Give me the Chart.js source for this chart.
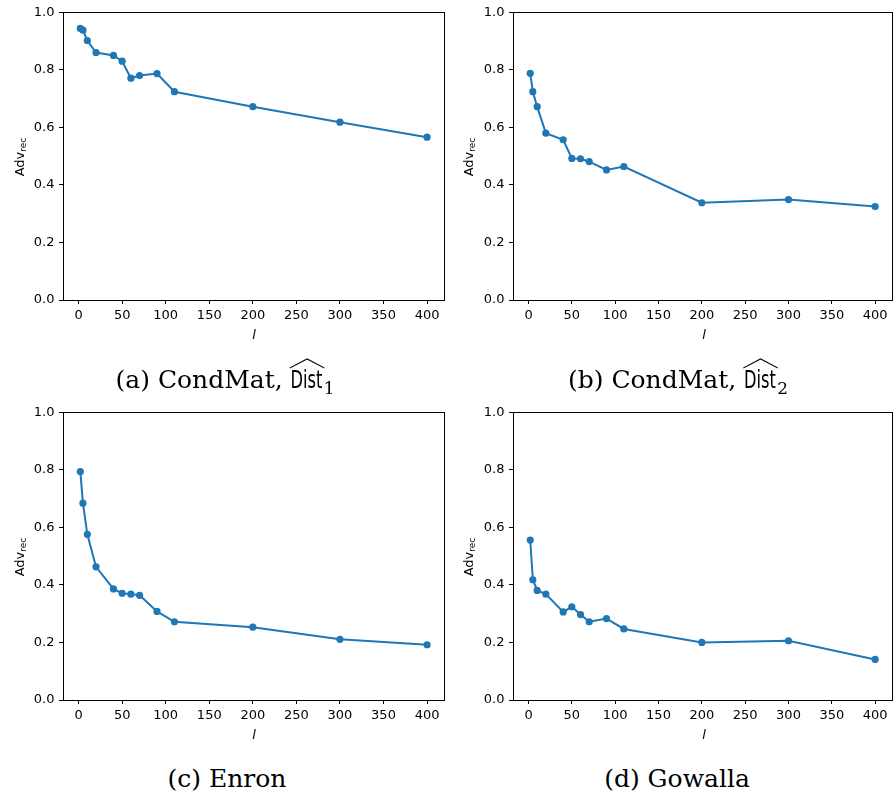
<!DOCTYPE html>
<html>
<head>
<meta charset="utf-8">
<script src="https://cdn.jsdelivr.net/npm/chart.js@4/dist/chart.umd.min.js"></script>
<style>
  body { margin: 0; background: #fff; }
  #wrap { position: relative; width: 896px; height: 797px; overflow: hidden; }
  canvas { position: absolute; }
  .ylab, .xlab { position: absolute; font-family: "DejaVu Sans", sans-serif; font-size: 13px; color: #000; white-space: nowrap; }
  .ylab { transform: translate(-50%, -50%) rotate(-90deg); }
  .ylab sub { font-size: 9px; vertical-align: -2px; }
  .xlab { transform: translate(-50%, -50%); font-style: italic; }
  .cap { position: absolute; font-family: "DejaVu Serif", serif; font-size: 25px; line-height: 25px; color: #000; white-space: nowrap; transform: translateX(-50%); }
  .dist { position: relative; display: inline-block; font-family: "DejaVu Sans", sans-serif; transform: scaleX(0.65); transform-origin: left center; margin-right: -16px; }
  .dist svg { position: absolute; left: -1px; top: -9px; width: calc(100% + 4px); height: 10px; overflow: visible; }
  .cap sub { font-size: 17px; vertical-align: -6px; }
</style>
</head>
<body>
<div id="wrap">
  <canvas id="ca" width="448" height="345" style="left:0;top:0"></canvas>
  <canvas id="cb" width="446" height="345" style="left:450px;top:0"></canvas>
  <canvas id="cc" width="448" height="345" style="left:0;top:400px"></canvas>
  <canvas id="cd" width="446" height="345" style="left:450px;top:400px"></canvas>

  <div class="ylab" style="left:20px;top:157px">Adv<sub>rec</sub></div>
  <div class="ylab" style="left:469px;top:157px">Adv<sub>rec</sub></div>
  <div class="ylab" style="left:20px;top:557px">Adv<sub>rec</sub></div>
  <div class="ylab" style="left:469px;top:557px">Adv<sub>rec</sub></div>

  <div class="xlab" style="left:254px;top:334px">l</div>
  <div class="xlab" style="left:704px;top:334px">l</div>
  <div class="xlab" style="left:254px;top:734px">l</div>
  <div class="xlab" style="left:704px;top:734px">l</div>

  <div class="cap" style="left:225px;top:367px">(a) CondMat, <span class="dist">Dist<svg viewBox="0 0 100 10" preserveAspectRatio="none"><path d="M0 10 L50 1 L100 10" fill="none" stroke="#000" stroke-width="1.3" vector-effect="non-scaling-stroke"/></svg></span><sub>1</sub></div>
  <div class="cap" style="left:678px;top:367px">(b) CondMat, <span class="dist">Dist<svg viewBox="0 0 100 10" preserveAspectRatio="none"><path d="M0 10 L50 1 L100 10" fill="none" stroke="#000" stroke-width="1.3" vector-effect="non-scaling-stroke"/></svg></span><sub>2</sub></div>
  <div class="cap" style="left:227px;top:766px">(c) Enron</div>
  <div class="cap" style="left:677px;top:766px">(d) Gowalla</div>
</div>
<script>
// x positions (l)
const lValues = [2, 5, 10, 20, 40, 50, 60, 70, 90, 110, 200, 300, 400];

// Adv_rec for each panel
const condMatDist1 = [0.944, 0.938, 0.902, 0.860, 0.850, 0.830, 0.771, 0.780, 0.787, 0.724, 0.672, 0.618, 0.566];
const condMatDist2 = [0.788, 0.724, 0.672, 0.580, 0.557, 0.492, 0.491, 0.481, 0.452, 0.464, 0.338, 0.349, 0.325];
const enron = [0.794, 0.684, 0.576, 0.463, 0.386, 0.371, 0.368, 0.364, 0.308, 0.272, 0.253, 0.211, 0.192];
const gowalla = [0.556, 0.418, 0.381, 0.368, 0.306, 0.324, 0.297, 0.272, 0.283, 0.247, 0.200, 0.206, 0.141];

const xTicks = [0, 50, 100, 150, 200, 250, 300, 350, 400];
const yTicks = [0, 0.2, 0.4, 0.6, 0.8, 1.0];

const blue = "#1f77b4";
const tickFont = { family: "DejaVu Sans", size: 13 };

// draws the top and right spines so the axes look boxed
const boxPlugin = {
  id: "box",
  afterDraw(chart) {
    const a = chart.chartArea;
    const ctx = chart.ctx;
    ctx.save();
    ctx.strokeStyle = "#000";
    ctx.lineWidth = 1;
    ctx.strokeRect(Math.round(a.left) + 0.5, Math.round(a.top) + 0.5,
      Math.round(a.right) - Math.round(a.left), Math.round(a.bottom) - Math.round(a.top));
    ctx.restore();
  }
};

function makePanel(id, values) {
  const canvas = document.getElementById(id);
  const W = canvas.width, H = canvas.height;
  const right = id === "ca" || id === "cc" ? 446 : 445;
  return new Chart(canvas, {
    type: "line",
    data: {
      datasets: [{
        data: lValues.map((x, i) => ({ x: x, y: values[i] })),
        borderColor: blue,
        backgroundColor: blue,
        borderWidth: 2,
        pointRadius: 3.6,
        pointBorderWidth: 0,
        pointHoverRadius: 3.6,
        tension: 0,
        clip: false
      }]
    },
    options: {
      responsive: false,
      animation: false,
      events: [],
      layout: { padding: { left: 0, top: 11, right: W - right, bottom: 0 } },
      plugins: { legend: { display: false }, tooltip: { enabled: false } },
      scales: {
        x: {
          type: "linear",
          min: -17.9,
          max: 419.9,
          afterBuildTicks: (s) => { s.ticks = xTicks.map(v => ({ value: v })); },
          afterFit: (s) => { s.height = H - 300; },
          grid: { drawOnChartArea: false, tickLength: 4, tickColor: "#000", tickWidth: 1 },
          border: { color: "#000", width: 1 },
          ticks: { color: "#000", font: tickFont, padding: 4, maxRotation: 0, autoSkip: false }
        },
        y: {
          min: 0,
          max: 1,
          afterBuildTicks: (s) => { s.ticks = yTicks.map(v => ({ value: v })); },
          afterFit: (s) => { s.width = 63; },
          grid: { drawOnChartArea: false, tickLength: 4, tickColor: "#000", tickWidth: 1 },
          border: { color: "#000", width: 1 },
          ticks: { color: "#000", font: tickFont, padding: 4.5, callback: (v) => v.toFixed(1) }
        }
      }
    },
    plugins: [boxPlugin]
  });
}

makePanel("ca", condMatDist1);
makePanel("cb", condMatDist2);
makePanel("cc", enron);
makePanel("cd", gowalla);
</script>
</body>
</html>
